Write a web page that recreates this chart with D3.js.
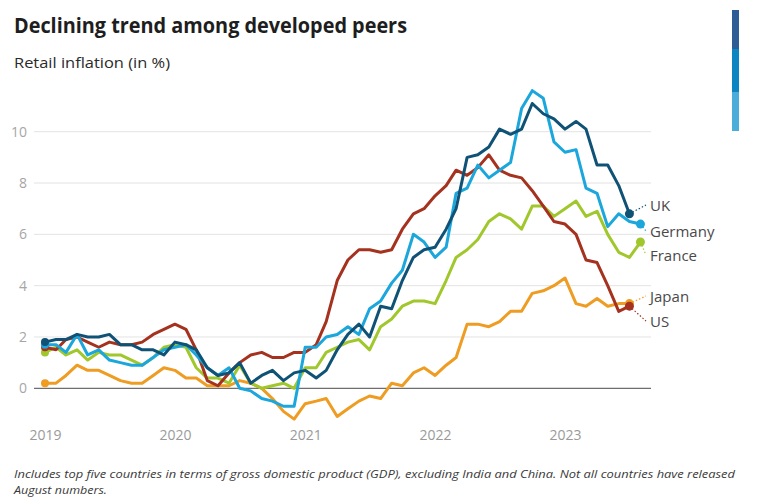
<!DOCTYPE html>
<html>
<head>
<meta charset="utf-8">
<script src="https://cdn.jsdelivr.net/npm/d3@7"></script>
<style>
  html, body { margin: 0; padding: 0; background: #fff; }
  svg { display: block; }
  text { font-family: "Open Sans", "Noto Sans", sans-serif; }
</style>
</head>
<body>
<svg id="chart" width="757" height="503"></svg>
<script>
// ---------- DATA (monthly, starting January 2019) ----------
const startMonth = "2019-01";
const countries = ["Japan", "France", "US", "Germany", "UK"];
const japan = [0.2,0.2,0.5,0.9,0.7,0.7,0.5,0.3,0.2,0.2,0.5,0.8,
               0.7,0.4,0.4,0.1,0.1,0.1,0.3,0.2,0.0,-0.4,-0.9,-1.2,
               -0.6,-0.5,-0.4,-1.1,-0.8,-0.5,-0.3,-0.4,0.2,0.1,0.6,0.8,
               0.5,0.9,1.2,2.5,2.5,2.4,2.6,3.0,3.0,3.7,3.8,4.0,
               4.3,3.3,3.2,3.5,3.2,3.3,3.3];
const france = [1.4,1.6,1.3,1.5,1.1,1.4,1.3,1.3,1.1,0.9,1.2,1.6,
                1.7,1.6,0.8,0.4,0.4,0.2,0.9,0.2,0.0,0.1,0.2,0.0,
                0.8,0.8,1.4,1.6,1.8,1.9,1.5,2.4,2.7,3.2,3.4,3.4,
                3.3,4.2,5.1,5.4,5.8,6.5,6.8,6.6,6.2,7.1,7.1,6.7,
                7.0,7.3,6.7,6.9,6.0,5.3,5.1,5.7];
const us = [1.6,1.5,1.9,2.0,1.8,1.6,1.8,1.7,1.7,1.8,2.1,2.3,
            2.5,2.3,1.5,0.3,0.1,0.6,1.0,1.3,1.4,1.2,1.2,1.4,
            1.4,1.7,2.6,4.2,5.0,5.4,5.4,5.3,5.4,6.2,6.8,7.0,
            7.5,7.9,8.5,8.3,8.6,9.1,8.5,8.3,8.2,7.7,7.1,6.5,
            6.4,6.0,5.0,4.9,4.0,3.0,3.2];
const germany = [1.7,1.7,1.4,2.1,1.3,1.5,1.1,1.0,0.9,0.9,1.2,1.5,
                 1.6,1.7,1.3,0.8,0.5,0.8,0.0,-0.1,-0.4,-0.5,-0.7,-0.7,
                 1.6,1.6,2.0,2.1,2.4,2.1,3.1,3.4,4.1,4.6,6.0,5.7,
                 5.1,5.5,7.6,7.8,8.7,8.2,8.5,8.8,10.9,11.6,11.3,9.6,
                 9.2,9.3,7.8,7.6,6.3,6.8,6.5,6.4];
const uk = [1.8,1.9,1.9,2.1,2.0,2.0,2.1,1.7,1.7,1.5,1.5,1.3,
            1.8,1.7,1.5,0.8,0.5,0.6,1.0,0.2,0.5,0.7,0.3,0.6,
            0.7,0.4,0.7,1.5,2.1,2.5,2.0,3.2,3.1,4.2,5.1,5.4,
            5.5,6.2,7.0,9.0,9.1,9.4,10.1,9.9,10.1,11.1,10.7,10.5,
            10.1,10.4,10.1,8.7,8.7,7.9,6.8];
const yTicks = [0, 2, 4, 6, 8, 10];
const xTickYears = [2019, 2020, 2021, 2022, 2023];
const colors = {UK:"#0f5276", Germany:"#1ba6dc", France:"#a0c72c", Japan:"#ee9c22", US:"#a5321f"};
const labelOrder = ["UK", "Germany", "France", "Japan", "US"];
const barColors = ["#2e5d96", "#0b86c3", "#4badd9"];

const seriesValues = {Japan: japan, France: france, US: us, Germany: germany, UK: uk};

// ---------- LAYOUT ----------
const svg = d3.select("#chart");
const parse = d3.timeParse("%Y-%m");
const t0 = parse(startMonth);
const dateAt = i => d3.timeMonth.offset(t0, i);

const x = d3.scaleTime()
  .domain([new Date(2019, 0, 1), new Date(2023, 0, 1)])
  .range([45, 565]);
const y = d3.scaleLinear().domain([0, 10]).range([388.3, 131.7]);
const gridX0 = 34, gridX1 = 651;

// colour bar top right
const barSeg = [[10, 49], [49, 92], [92, 131]];
svg.selectAll("rect.cb").data(barColors).join("rect")
  .attr("class", "cb")
  .attr("x", 732).attr("width", 7)
  .attr("y", (d, i) => barSeg[i][0])
  .attr("height", (d, i) => barSeg[i][1] - barSeg[i][0])
  .attr("fill", d => d);

// titles
svg.append("text").attr("x", 14).attr("y", 33)
  .attr("font-size", 22).attr("font-weight", 700).attr("fill", "#1e1e1e")
  .attr("textLength", 393).attr("lengthAdjust", "spacingAndGlyphs")
  .text("Declining trend among developed peers");
svg.append("text").attr("x", 14).attr("y", 68)
  .attr("font-size", 15).attr("font-weight", 500).attr("fill", "#2a2a2a")
  .attr("textLength", 156).attr("lengthAdjust", "spacingAndGlyphs")
  .text("Retail inflation (in %)");

// grid
svg.append("g").selectAll("line").data(yTicks.filter(d => d !== 0)).join("line")
  .attr("x1", gridX0).attr("x2", gridX1)
  .attr("y1", d => y(d)).attr("y2", d => y(d))
  .attr("stroke", "#e3e3e3").attr("stroke-width", 1);
svg.append("line")
  .attr("x1", gridX0).attr("x2", gridX1)
  .attr("y1", y(0)).attr("y2", y(0))
  .attr("stroke", "#6e6e6e").attr("stroke-width", 1.2);

// y axis labels
const yAxis = d3.axisLeft(y).tickValues(yTicks).tickSize(0).tickPadding(0);
const gy = svg.append("g").attr("transform", "translate(27,0)").call(yAxis);
gy.select(".domain").remove();
gy.selectAll("text").attr("font-size", 14).attr("fill", "#a6a6a6")
  .attr("font-family", "'Open Sans', sans-serif");

// x axis labels
const xAxis = d3.axisBottom(x)
  .tickValues(xTickYears.map(yy => new Date(yy, 0, 1)))
  .tickFormat(d3.timeFormat("%Y")).tickSize(0).tickPadding(0);
const gx = svg.append("g").attr("transform", "translate(0,430)").call(xAxis);
gx.select(".domain").remove();
gx.selectAll("text").attr("font-size", 14).attr("fill", "#9a9a9a")
  .attr("font-family", "'Open Sans', sans-serif");

// lines
const line = d3.line().x((d, i) => x(dateAt(i))).y(d => y(d)).curve(d3.curveLinear);
countries.forEach(c => {
  const vals = seriesValues[c];
  svg.append("path").datum(vals)
    .attr("d", line).attr("fill", "none")
    .attr("stroke", colors[c]).attr("stroke-width", 3)
    .attr("stroke-linejoin", "round").attr("stroke-linecap", "round");
  svg.append("circle").attr("cx", x(dateAt(0))).attr("cy", y(vals[0]))
    .attr("r", 4).attr("fill", colors[c]);
});

// end dots, connectors, labels
const labelY = {UK: 206, Germany: 232, France: 256, Japan: 297, US: 322};
labelOrder.forEach(c => {
  const vals = seriesValues[c];
  const n = vals.length - 1;
  const ex = x(dateAt(n)), ey = y(vals[n]);
  svg.append("line")
    .attr("x1", ex).attr("y1", ey)
    .attr("x2", 646).attr("y2", labelY[c] - 1)
    .attr("stroke", colors[c]).attr("stroke-width", 1.2)
    .attr("stroke-dasharray", "1.5,2");
  svg.append("circle").attr("cx", ex).attr("cy", ey)
    .attr("r", 4.5).attr("fill", colors[c]);
  svg.append("text").attr("x", 650).attr("y", labelY[c])
    .attr("dy", "0.35em").attr("font-size", 15).attr("fill", "#4a4a4a")
    .text(c);
});

// footnote
svg.append("text").attr("x", 14).attr("y", 478)
  .attr("font-size", 11).attr("font-style", "italic").attr("fill", "#3a3a3a")
  .attr("textLength", 721).attr("lengthAdjust", "spacingAndGlyphs")
  .text("Includes top five countries in terms of gross domestic product (GDP), excluding India and China. Not all countries have released");
svg.append("text").attr("x", 14).attr("y", 494)
  .attr("font-size", 11).attr("font-style", "italic").attr("fill", "#3a3a3a")
  .attr("textLength", 93).attr("lengthAdjust", "spacingAndGlyphs")
  .text("August numbers.");
</script>
</body>
</html>
